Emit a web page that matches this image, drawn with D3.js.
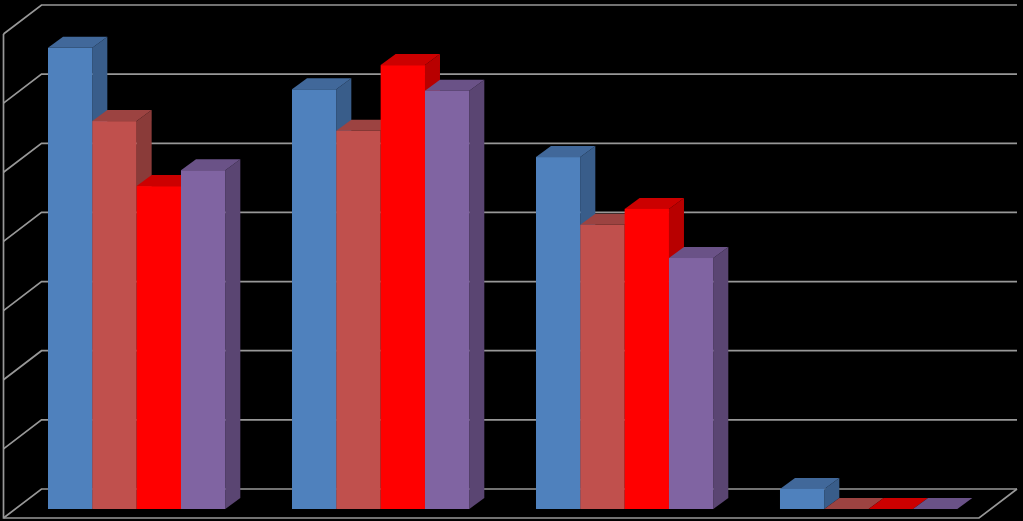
<!DOCTYPE html>
<html>
<head>
<meta charset="utf-8">
<style>html,body{margin:0;padding:0;background:#000;overflow:hidden}svg{display:block}</style>
<script src="https://cdn.jsdelivr.net/npm/d3@7"></script>
</head>
<body>
<script>
const categories = ["A", "B", "C", "D"];
const seriesNames = ["S1", "S2", "S3", "S4"];
const s1 = [66.7, 60.7, 50.9, 2.9];
const s2 = [56.1, 54.7, 41.1, 0];
const s3 = [46.7, 64.2, 43.4, 0];
const s4 = [49.0, 60.5, 36.3, 0];
const ticks = [0, 10, 20, 30, 40, 50, 60, 70];
const frontColors = ["#4f81bd", "#c0504d", "#ff0000", "#8064a2"];
const topColors = ["#41689a", "#9c4341", "#cc0000", "#6a5287"];
const sideColors = ["#395d8a", "#8a3b39", "#b80000", "#5a4572"];

const W = 1023, H = 521;
const svg = d3.select("body").append("svg").attr("width", W).attr("height", H).style("background", "#000");

const seriesValues = [s1, s2, s3, s4];
const y = d3.scaleLinear().domain([0, 70]).range([509, 25]);
const x0 = d3.scaleBand().domain(categories).range([14.65, 990.65]).paddingInner(0.2733).paddingOuter(0.1367);
const x1 = d3.scaleBand().domain(seriesNames).range([0, x0.bandwidth()]);

// chart-box geometry
const backOff = -20, frontOff = 9, wallDx = 38, left = 3.5, back = left + wallDx, right = 1017;
const depthX = 15, depthY = -11;
const gridColor = "#989898";

const grid = svg.append("g").attr("fill", "none").attr("stroke", gridColor).attr("stroke-width", 1.7);
grid.selectAll("path.g").data(ticks).join("path").attr("class", "g")
  .attr("d", t => {
    const yb = y(t) + backOff, yf = y(t) + frontOff;
    return `M${left},${yf}L${back},${yb}L${right},${yb}`;
  });
// left wall and floor front edges
grid.append("path").attr("d", `M${left},${y(70) + frontOff}L${left},${y(0) + frontOff}L${right - wallDx},${y(0) + frontOff}L${right},${y(0) + backOff}`);

// bars, painted left to right
const bars = [];
categories.forEach((c, ci) => seriesNames.forEach((s, si) => bars.push({ c, s, si, v: seriesValues[si][ci] })));
const g = svg.append("g").selectAll("g").data(bars).join("g");
const X = d => x0(d.c) + x1(d.s), B = () => x1.bandwidth();

g.append("path").attr("fill", d => sideColors[d.si])
  .attr("d", d => {
    const r = X(d) + B(), t = y(d.v), b = y(0);
    return `M${r},${t}L${r + depthX},${t + depthY}L${r + depthX},${b + depthY}L${r},${b}Z`;
  });
g.append("path").attr("fill", d => topColors[d.si])
  .attr("d", d => {
    const l = X(d), r = l + B(), t = y(d.v);
    return `M${l},${t}L${l + depthX},${t + depthY}L${r + depthX},${t + depthY}L${r},${t}Z`;
  });
g.append("rect").attr("fill", d => frontColors[d.si])
  .attr("x", X).attr("width", B)
  .attr("y", d => y(d.v)).attr("height", d => y(0) - y(d.v));
</script>
</body>
</html>
